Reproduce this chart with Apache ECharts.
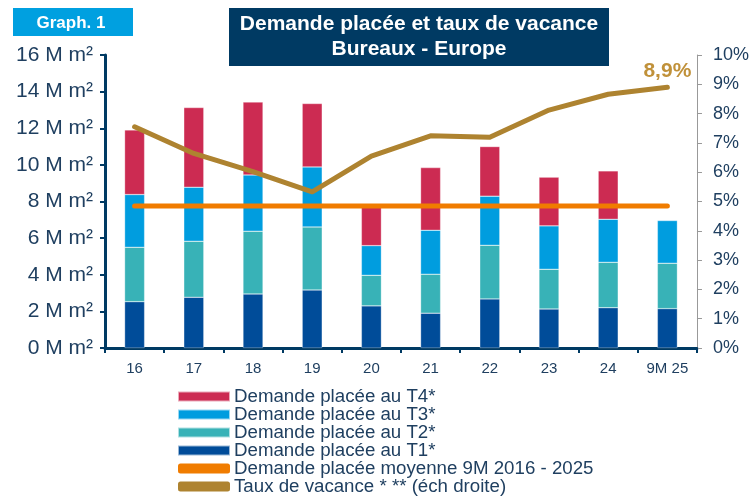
<!DOCTYPE html>
<html>
<head>
<meta charset="utf-8">
<script src="https://cdn.jsdelivr.net/npm/echarts@6/dist/echarts.min.js"></script>
<style>
  html, body { margin: 0; padding: 0; background: #fff; }
  #chart { width: 752px; height: 496px; }
</style>
</head>
<body>
<div id="chart"></div>
<script>
// categories (years)
const years = ['16', '17', '18', '19', '20', '21', '22', '23', '24', '9M 25'];

// demande placée par trimestre (M m²)
const t1 = [2.53, 2.77, 2.95, 3.17, 2.30, 1.90, 2.68, 2.13, 2.20, 2.15];
const t2 = [2.97, 3.06, 3.43, 3.44, 1.67, 2.13, 2.93, 2.17, 2.48, 2.48];
const t3 = [2.88, 2.95, 3.07, 3.28, 1.62, 2.40, 2.68, 2.37, 2.35, 2.33];
const t4 = [3.53, 4.35, 3.98, 3.46, 2.23, 3.42, 2.71, 2.66, 2.64, null];

// moyenne 9M 2016 - 2025 (M m²)
const avgDemand = 7.76;

// taux de vacance (%)
const vacancy = [7.55, 6.64, 6.02, 5.33, 6.55, 7.24, 7.19, 8.12, 8.66, 8.9];

// axis ticks
const leftMax = 16, leftStep = 2;
const rightMax = 10, rightStep = 1;

const navy = '#003a63';
const txt = '#1f3f60';
const font = 'Arial, "Liberation Sans", sans-serif';

const chart = echarts.init(document.getElementById('chart'));

const barStyle = (color) => ({
  color: color,
  borderColor: 'rgba(255,255,255,0.6)',
  borderWidth: 0.5
});

const option = {
  animation: false,
  textStyle: { fontFamily: font },
  grid: { left: 105, right: 53, top: 55, bottom: 148 },
  graphic: [
    { type: 'rect', shape: { x: 13, y: 8, width: 120, height: 28 }, style: { fill: '#00a0e0' } },
    { type: 'text', x: 71, y: 23, style: { text: 'Graph. 1', fill: '#fff', font: 'bold 17px ' + font, align: 'center', verticalAlign: 'middle' } },
    { type: 'rect', shape: { x: 229, y: 8, width: 380, height: 58 }, style: { fill: navy } },
    { type: 'text', x: 419, y: 37, style: { text: 'Demande placée et taux de vacance\nBureaux - Europe', fill: '#fff', font: 'bold 21px ' + font, align: 'center', verticalAlign: 'middle', lineHeight: 25 } }
  ],
  legend: {
    orient: 'vertical',
    left: 177,
    top: 387,
    height: 140,
    padding: 0,
    itemWidth: 52,
    itemHeight: 10,
    itemGap: -1,
    textStyle: { color: txt, fontSize: 18.7, fontFamily: font, padding: [0, 0, 0, -1] },
    data: [
      { name: 'Demande placée au T4*', icon: 'rect' },
      { name: 'Demande placée au T3*', icon: 'rect' },
      { name: 'Demande placée au T2*', icon: 'rect' },
      { name: 'Demande placée au T1*', icon: 'rect' },
      { name: 'Demande placée moyenne 9M 2016 - 2025', icon: 'roundRect' },
      { name: 'Taux de vacance * ** (éch droite)', icon: 'roundRect' }
    ]
  },
  xAxis: {
    type: 'category',
    data: years,
    axisLine: { lineStyle: { color: navy, width: 3 } },
    axisTick: { show: true, length: 5, lineStyle: { color: navy, width: 2 } },
    axisLabel: { color: txt, fontSize: 15, margin: 13 }
  },
  yAxis: [
    {
      type: 'value',
      min: 0, max: leftMax, interval: leftStep,
      axisLine: { show: true, lineStyle: { color: navy, width: 3 } },
      axisTick: { show: true, length: 5, lineStyle: { color: navy, width: 2 } },
      splitLine: { show: false },
      axisLabel: { color: txt, fontSize: 21, margin: 12, formatter: '{value} M m²' }
    },
    {
      type: 'value',
      min: 0, max: rightMax, interval: rightStep,
      position: 'right',
      axisLine: { show: true, lineStyle: { color: '#999', width: 1 } },
      axisTick: { show: true, length: 5, lineStyle: { color: '#999' } },
      splitLine: { show: false },
      axisLabel: { color: txt, fontSize: 18, margin: 16, formatter: '{value}%' }
    }
  ],
  series: [
    { name: 'Demande placée au T1*', type: 'bar', stack: 'd', barWidth: 20, data: t1, itemStyle: barStyle('#004c99') },
    { name: 'Demande placée au T2*', type: 'bar', stack: 'd', data: t2, itemStyle: barStyle('#38b2b7') },
    { name: 'Demande placée au T3*', type: 'bar', stack: 'd', data: t3, itemStyle: barStyle('#009ddf') },
    { name: 'Demande placée au T4*', type: 'bar', stack: 'd', data: t4, itemStyle: barStyle('#cc2b52') },
    {
      name: 'Demande placée moyenne 9M 2016 - 2025',
      type: 'line',
      data: years.map(() => avgDemand),
      symbol: 'none',
      z: 5,
      itemStyle: { color: '#f07c00' },
      lineStyle: { color: '#f07c00', width: 5, cap: 'round' }
    },
    {
      name: 'Taux de vacance * ** (éch droite)',
      type: 'line',
      yAxisIndex: 1,
      data: vacancy.map((v, i) => i === vacancy.length - 1
        ? { value: v, label: { show: true, position: 'top', distance: 5, color: '#c0913a', fontWeight: 'bold', fontSize: 21, formatter: (p) => String(p.value).replace('.', ',') + '%' } }
        : v),
      symbol: 'circle',
      symbolSize: 1,
      showSymbol: true,
      z: 6,
      itemStyle: { color: '#ae8330' },
      lineStyle: { color: '#ae8330', width: 5, cap: 'round', join: 'round' }
    }
  ]
};

chart.setOption(option);
</script>
</body>
</html>
